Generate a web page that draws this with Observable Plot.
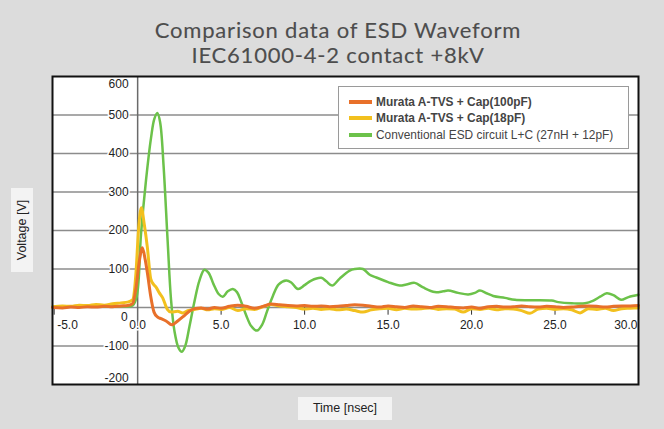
<!DOCTYPE html>
<html>
<head>
<meta charset="utf-8">
<script src="https://cdn.jsdelivr.net/npm/d3@7"></script>
<script src="https://cdn.jsdelivr.net/npm/@observablehq/plot@0.6"></script>
<style>
  html, body { margin: 0; padding: 0; background: #dcdcdc; }
  #wrap { position: relative; width: 664px; height: 429px; overflow: hidden; background: #dcdcdc; }
  #wrap svg { position: absolute; left: 0; top: 0; }
  .title { position: absolute; left: 6px; width: 664px; text-align: center; font-family: Lato, "Open Sans", sans-serif; font-size: 22px; letter-spacing: 0.8px; color: #4d4d4d; line-height: 25px; white-space: nowrap; -webkit-text-stroke: 0.12px #4d4d4d; }
  .ylab { position: absolute; left: 11px; top: 188px; width: 22px; height: 84px; background: #f3f3f3; }
  .ylab span { position: absolute; left: 50%; top: 50%; transform: translate(-50%, -50%) rotate(-90deg); font-family: "Liberation Sans", Arial, sans-serif; font-size: 12.5px; color: #222; white-space: nowrap; }
  .xlab { position: absolute; left: 298px; top: 397px; width: 94px; height: 23px; background: #f3f3f3; font-family: "Liberation Sans", Arial, sans-serif; font-size: 12.5px; color: #222; text-align: center; line-height: 23px; }
  .legend { position: absolute; left: 338px; top: 86px; width: 289px; height: 61px; background: #fff; border: 1px solid #9a9a9a; font-family: "Liberation Sans", Arial, sans-serif; font-size: 11.9px; color: #444; }
  .legend .row { position: absolute; left: 10px; height: 14px; line-height: 14px; white-space: nowrap; }
  .legend .sw { display: inline-block; width: 23px; height: 4px; vertical-align: middle; margin-right: 4px; position: relative; top: -1px; }
</style>
</head>
<body>
<div id="wrap"></div>
<script>
// ---- data ----
const seriesNames = [
  "Murata A-TVS + Cap(100pF)",
  "Murata A-TVS + Cap(18pF)",
  "Conventional ESD circuit L+C (27nH + 12pF)"
];
const seriesColors = ["#e8702a", "#f2c01e", "#6cc24a"];

const orangeT = [-5.1,-4.5,-4,-3.5,-3,-2.5,-2,-1.5,-1,-0.6,-0.3,-0.1,0.1,0.28,0.45,0.6,0.78,0.98,1.2,1.4,1.7,2.05,2.4,2.8,3.1,3.4,3.8,4.2,4.6,5,5.5,6,6.5,7,7.5,8,8.5,9,9.5,10,10.5,11,11.5,12,12.5,13,13.5,14,14.5,15,15.5,16,16.5,17,17.5,18,18.5,19,19.5,20,20.5,21,21.5,22,22.5,23,23.5,24,24.5,25,25.5,26,26.5,27,27.5,28,28.5,29,29.5,30];
const orangeV = [0,-1,1,0,2,1,3,2,4,5,10,50,120,155,125,85,30,-12,-25,-29,-35,-45,-35,-21,-10,-3,-1,-4,0,-2,3,6,3,-2,3,9,7,5,4,5,3,4,2,3,5,7,6,3,1,4,2,0,4,2,0,3,2,0,-1,1,-2,2,3,1,2,4,2,1,3,2,0,1,3,4,3,1,3,4,4,5];

const yellowT = [-5.1,-4.5,-4,-3.5,-3,-2.5,-2,-1.5,-1,-0.6,-0.3,-0.1,0.05,0.22,0.4,0.58,0.78,0.95,1.1,1.3,1.5,1.78,2.0,2.4,2.7,3.0,3.4,3.8,4.2,4.6,5,5.5,6,6.5,7,7.5,8,8.5,9,9.5,10,10.5,11,11.5,12,12.5,13,13.5,14,14.5,15,15.5,16,16.5,17,17.5,18,18.5,19,19.5,20,20.5,21,21.5,22,22.5,23,23.5,24,24.5,25,25.5,26,26.5,27,27.5,28,28.5,29,29.5,30];
const yellowV = [2,4,3,6,5,8,6,10,12,14,20,90,200,259,215,157,75,60,53,38,25,-5,-12,-10,-14,-8,-5,-2,-6,-3,-5,0,-8,-3,-5,2,8,4,2,0,-4,-2,-5,-3,-6,-4,-8,-12,-6,-3,-2,-6,-2,-4,-3,-1,-5,-3,-4,-12,-3,-5,-2,-6,-3,-4,-8,-15,-4,-2,-5,-3,-6,-14,-3,-5,-2,-8,-3,-2,-1];

const greenT = [-5.1,-3,-1,-0.3,-0.05,0.2,0.5,0.8,1.0,1.18,1.35,1.55,1.8,2.0,2.2,2.45,2.65,2.85,3.1,3.4,3.7,4.0,4.25,4.55,4.85,5.1,5.4,5.7,5.95,6.2,6.5,6.8,7.15,7.45,7.75,8.1,8.45,8.9,9.2,9.6,10.0,10.4,11.0,11.3,11.65,12.1,12.7,13.0,13.5,13.9,14.3,15.0,15.7,16.1,16.6,17.1,17.8,18.3,18.6,19.2,19.8,20.2,20.5,20.9,21.3,22.0,22.6,23.5,24.8,25.2,26.0,26.8,27.3,27.7,28.1,28.5,28.95,29.4,30];
const greenV = [2,2,3,5,30,190,330,440,490,505,480,370,170,20,-60,-105,-115,-100,-50,15,70,98,90,60,35,28,42,48,40,15,-20,-48,-60,-45,-10,30,60,70,65,48,58,70,77,68,57,75,96,100,100,85,78,66,57,60,64,52,40,42,44,38,34,38,44,37,30,25,20,19,18,14,11,11,18,28,37,32,20,27,33];

const yTicks = [-200,-100,0,100,200,300,400,500,600];
const xTicks = [-5,0,5,10,15,20,25,30];
const xTickLabels = ["-5.0","0.0","5.0","10.0","15.0","20.0","25.0","30.0"];

// ---- build table ----
const rows = [];
[[greenT, greenV, 2], [yellowT, yellowV, 1], [orangeT, orangeV, 0]].forEach(([T, V, k]) => {
  T.forEach((t, i) => rows.push({t, v: V[i], s: seriesNames[k], k}));
});
const xt = xTicks.map((d, i) => ({x: d, label: xTickLabels[i]}));

const font = "'Liberation Sans', Arial, sans-serif";
const plot = Plot.plot({
  width: 664,
  height: 429,
  marginLeft: 52,
  marginRight: 26,
  marginTop: 76,
  marginBottom: 45,
  x: {domain: [-5.1, 30], axis: null},
  y: {domain: [-200, 600], axis: null},
  color: {domain: seriesNames, range: seriesColors},
  style: {background: "transparent", fontFamily: font, fontSize: "12px", color: "#222"},
  marks: [
    Plot.frame({fill: "white", stroke: null}),
    Plot.ruleY(yTicks.filter(d => d > -200 && d < 600), {stroke: "#8c8c8c", strokeWidth: 1.5}),
    Plot.ruleX([0], {stroke: "#6a6a6a", strokeWidth: 1.5}),
    Plot.ruleX(xTicks.filter(d => d !== 0), {x: d => d, y1: 0, y2: -20, stroke: "#333", strokeWidth: 1}),
    Plot.line(rows.filter(d => d.k === 2), {x: "t", y: "v", stroke: "s", strokeWidth: 2.5, curve: "catmull-rom"}),
    Plot.line(rows.filter(d => d.k === 1), {x: "t", y: "v", stroke: "s", strokeWidth: 3, curve: "monotone-x"}),
    Plot.line(rows.filter(d => d.k === 0), {x: "t", y: "v", stroke: "s", strokeWidth: 3, curve: "monotone-x"}),
    // y tick labels
    Plot.text(yTicks.filter(d => d > -200 && d < 600 && d !== 0), {x: 0, y: d => d, text: d => String(d), dx: -9, textAnchor: "end", fill: "#222", stroke: "white", strokeWidth: 3, fontSize: 12}),
    Plot.text([600], {x: 0, y: d => d, text: d => String(d), dx: -9, dy: 8, textAnchor: "end", fill: "#222", stroke: "white", strokeWidth: 3, fontSize: 12}),
    Plot.text([-200], {x: 0, y: d => d, text: d => String(d), dx: -9, dy: -6, textAnchor: "end", fill: "#222", stroke: "white", strokeWidth: 3, fontSize: 12}),
    Plot.text([0], {x: 0, y: d => d, text: d => String(d), dx: -10, dy: 10, textAnchor: "end", fill: "#222", fontSize: 12}),
    // x tick labels
    Plot.text(xt.filter(d => d.x > -5 && d.x < 30), {x: "x", y: 0, text: "label", dy: 18, fill: "#222", stroke: "white", strokeWidth: 3, fontSize: 12}),
    Plot.text(xt.filter(d => d.x === -5), {x: "x", y: 0, text: "label", dy: 18, dx: 3, textAnchor: "start", fill: "#222", fontSize: 12}),
    Plot.text(xt.filter(d => d.x === 30), {x: "x", y: 0, text: "label", dy: 18, dx: -1, textAnchor: "end", fill: "#222", fontSize: 12}),
    Plot.frame({stroke: "#111", strokeWidth: 2})
  ]
});

const wrap = document.getElementById("wrap");
wrap.appendChild(plot);

const t1 = document.createElement("div");
t1.className = "title"; t1.style.top = "17px"; t1.textContent = "Comparison data of ESD Waveform";
const t2 = document.createElement("div");
t2.className = "title"; t2.style.top = "42px"; t2.textContent = "IEC61000-4-2 contact +8kV";
wrap.appendChild(t1); wrap.appendChild(t2);

const yl = document.createElement("div");
yl.className = "ylab"; yl.innerHTML = "<span>Voltage [V]</span>";
wrap.appendChild(yl);
const xl = document.createElement("div");
xl.className = "xlab"; xl.textContent = "Time [nsec]";
wrap.appendChild(xl);

const lg = document.createElement("div");
lg.className = "legend";
const bold = [true, true, false];
const tops = [8, 24, 41];
seriesNames.forEach((n, i) => {
  const r = document.createElement("div");
  r.className = "row";
  r.style.top = tops[i] + "px";
  r.style.fontWeight = bold[i] ? "bold" : "normal";
  const sw = document.createElement("span");
  sw.className = "sw"; sw.style.background = seriesColors[i];
  r.appendChild(sw);
  r.appendChild(document.createTextNode(n));
  lg.appendChild(r);
});
wrap.appendChild(lg);
</script>
</body>
</html>
